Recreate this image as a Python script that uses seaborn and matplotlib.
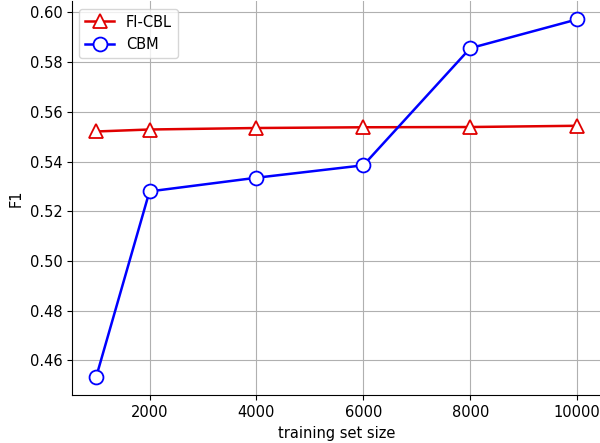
import pandas as pd
import matplotlib
matplotlib.use("Agg")
import matplotlib.pyplot as plt
import seaborn as sns

sizes = [1000, 2000, 4000, 6000, 8000, 10000]
fi_cbl = [0.5521, 0.5529, 0.5535, 0.5538, 0.5539, 0.5544]
cbm = [0.4532, 0.5280, 0.5335, 0.5385, 0.5856, 0.5972]

df = pd.DataFrame({
    'training set size': sizes * 2,
    'F1': fi_cbl + cbm,
    'model': ['FI-CBL'] * len(sizes) + ['CBM'] * len(sizes),
})

plt.rcParams['font.size'] = 10.5

fig = plt.figure(figsize=(6, 4.43), dpi=100)
ax = fig.add_axes([0.12, 0.1077, 0.882, 0.889])

styles = {'FI-CBL': ('#e00000', '^'), 'CBM': ('blue', 'o')}
for name, (color, marker) in styles.items():
    sub = df[df['model'] == name]
    sns.lineplot(data=sub, x='training set size', y='F1', ax=ax, color=color,
                 marker=marker, markersize=10, markerfacecolor='white',
                 markeredgecolor=color, markeredgewidth=1.3, linewidth=1.8,
                 label=name)

ax.grid(True, color='#b0b0b0', linewidth=0.8)
ax.set_xticks([2000, 4000, 6000, 8000, 10000])
ax.set_yticks([0.46, 0.48, 0.50, 0.52, 0.54, 0.56, 0.58, 0.60])
ax.set_yticklabels([f'{v:.2f}' for v in ax.get_yticks()])
ax.spines['top'].set_visible(False)
ax.spines['right'].set_visible(False)
ax.legend(loc='upper left', fontsize=10.5)

fig.savefig('out.png', dpi=100)
